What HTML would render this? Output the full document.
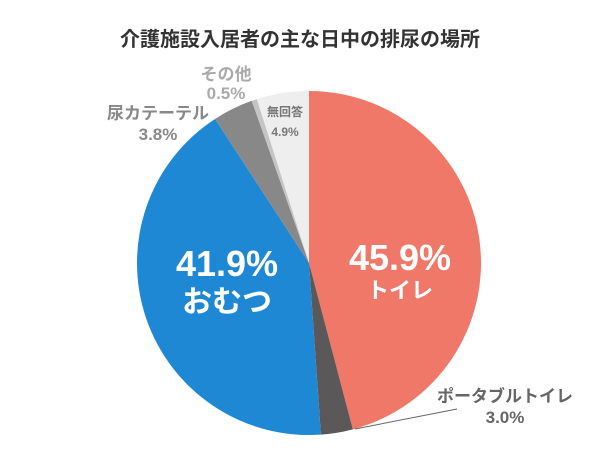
<!DOCTYPE html>
<html><head><meta charset="utf-8"><style>
body{margin:0;background:#fff;}
svg{display:block;font-family:"Liberation Sans","Noto Sans CJK JP",sans-serif;}
</style></head><body>
<svg width="600" height="450" viewBox="0 0 600 450">
<text x="300" y="46" text-anchor="middle" font-size="20" font-weight="bold" fill="#333">介護施設入居者の主な日中の排尿の場所</text>
<g id="slices"></g>
<line x1="355" y1="429" x2="457" y2="409" stroke="#666" stroke-width="1"/>
<g font-weight="bold">
<text x="400" y="270" text-anchor="middle" font-size="36" fill="#fff">45.9%</text>
<text x="400" y="298" text-anchor="middle" font-size="22" fill="#fff">トイレ</text>
<text x="227" y="276" text-anchor="middle" font-size="36" fill="#fff">41.9%</text>
<text x="227" y="312" text-anchor="middle" font-size="30" fill="#fff">おむつ</text>
<text x="505" y="402" text-anchor="middle" font-size="17" fill="#666">ポータブルトイレ</text>
<text x="505" y="423" text-anchor="middle" font-size="17" fill="#666">3.0%</text>
<text x="158" y="119" text-anchor="middle" font-size="17" fill="#888">尿カテーテル</text>
<text x="158" y="140" text-anchor="middle" font-size="17" fill="#888">3.8%</text>
<text x="226" y="80" text-anchor="middle" font-size="17" fill="#aaa">その他</text>
<text x="226" y="99" text-anchor="middle" font-size="17" fill="#aaa">0.5%</text>
<text x="285" y="116" text-anchor="middle" font-size="12" fill="#777">無回答</text>
<text x="285" y="136" text-anchor="middle" font-size="12" fill="#777">4.9%</text>
</g>
</svg>
<script>
const categories = ["トイレ","ポータブルトイレ","おむつ","尿カテーテル","その他","無回答"];
const values = [45.9, 3.0, 41.9, 3.8, 0.5, 4.9];
const colors = ["#F07868","#5A5858","#1E88D4","#888888","#C4C4C4","#EEEEEE"];
const cx=309, cy=263, r=172;
const g=document.getElementById('slices');
const total=values.reduce((a,b)=>a+b,0);
let a0=0;
values.forEach((v,i)=>{
  const a1=a0+v/total*2*Math.PI;
  const x0=cx+r*Math.sin(a0), y0=cy-r*Math.cos(a0);
  const x1=cx+r*Math.sin(a1), y1=cy-r*Math.cos(a1);
  const large=(a1-a0)>Math.PI?1:0;
  const p=document.createElementNS('http://www.w3.org/2000/svg','path');
  p.setAttribute('d',`M${cx},${cy}L${x0},${y0}A${r},${r} 0 ${large} 1 ${x1},${y1}Z`);
  p.setAttribute('fill',colors[i]);
  
  
  g.appendChild(p);
  a0=a1;
});
</script>
</body></html>
